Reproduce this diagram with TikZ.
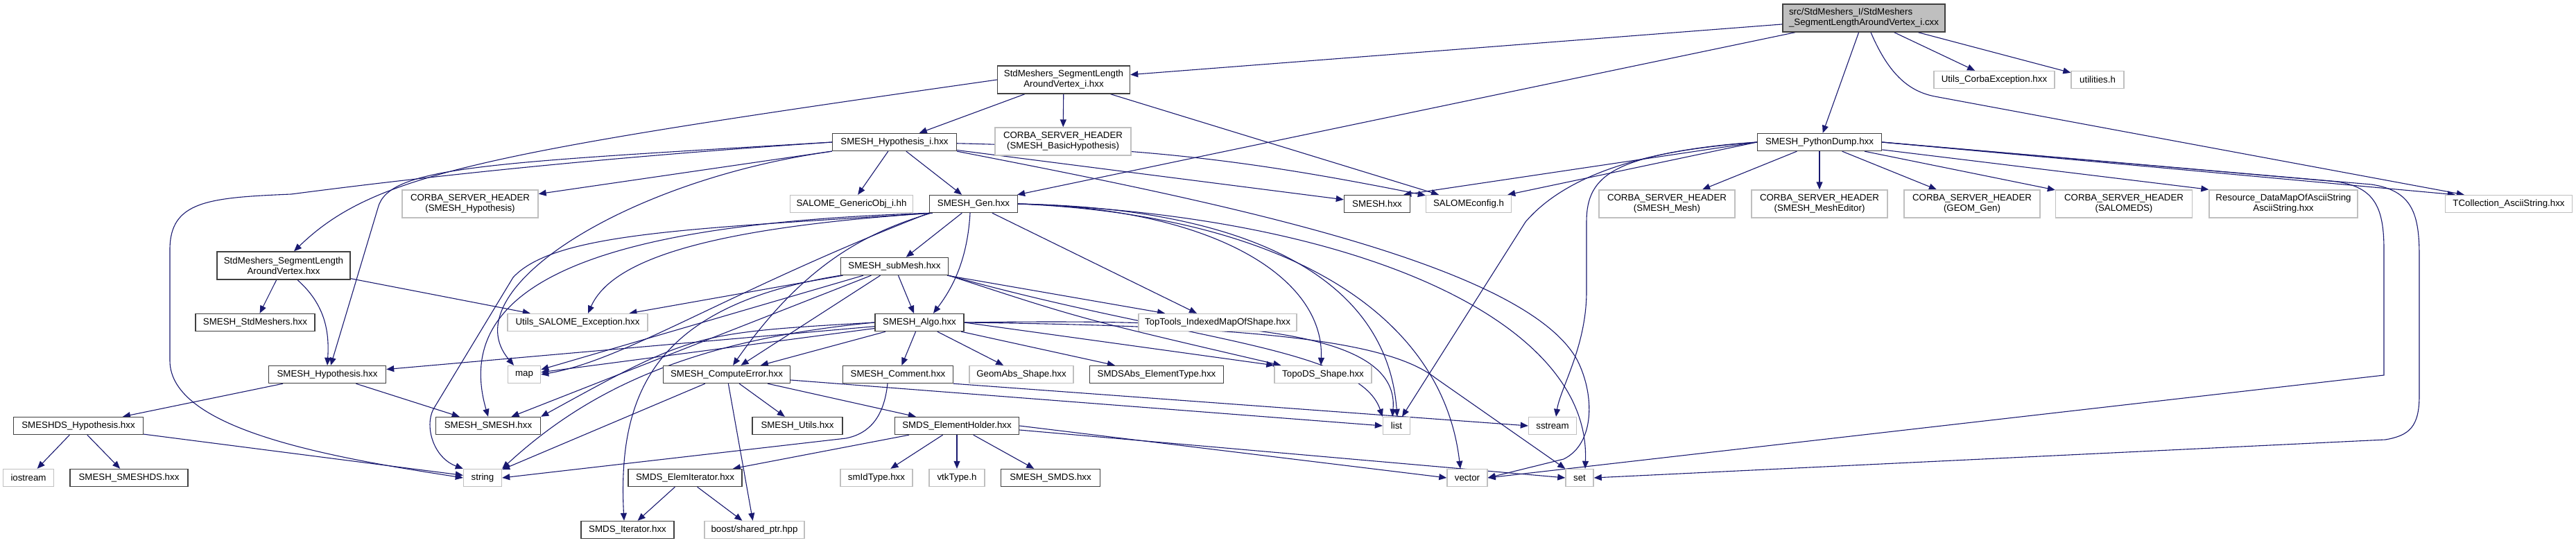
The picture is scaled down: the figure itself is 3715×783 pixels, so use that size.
\documentclass[tikz,border=0pt]{standalone}
\usepackage{fontspec}
\setmainfont{Liberation Sans}
\usetikzlibrary{arrows.meta}
\definecolor{eb}{HTML}{191970}
\definecolor{bd}{HTML}{404040}
\definecolor{lg}{HTML}{BFBFBF}
\newcommand{\fs}{\fontsize{13.3}{15}\selectfont}
\pgfdeclarelayer{bg}
\pgfsetlayers{bg,main}
\begin{document}
\begin{tikzpicture}[x=1pt,y=-1pt,
  dk/.style={draw=bd, line width=1.4pt, fill=white, inner sep=0pt, minimum height=25pt, align=center, font=\fs},
  lt/.style={draw=lg, line width=1.4pt, fill=white, inner sep=0pt, minimum height=25pt, align=center, font=\fs},
  two/.style={minimum height=40pt},
  e/.style={draw=eb, line width=1.1pt, -{Triangle[length=11pt,width=9pt]}}]
\useasboundingbox (0,0) rectangle (3715,783);
% nodes
\node[dk,fill=lg,two,minimum width=234pt,align=left] (M) at (2688,26) {src/StdMeshers\_I/StdMeshers\\\_SegmentLengthAroundVertex\_i.cxx};
\node[dk,two,minimum width=191pt] (AVi) at (1534,115) {StdMeshers\_SegmentLength\\AroundVertex\_i.hxx};
\node[lt,minimum width=174pt] (UCE) at (2876,115) {Utils\_CorbaException.hxx};
\node[lt,minimum width=76pt] (UT) at (3025,115) {utilities.h};
\node[dk,minimum width=179pt] (Hi) at (1290,205) {SMESH\_Hypothesis\_i.hxx};
\node[lt,two,minimum width=196pt] (CBH) at (1533,204) {CORBA\_SERVER\_HEADER\\(SMESH\_BasicHypothesis)};
\node[dk,minimum width=179pt] (PD) at (2624,205) {SMESH\_PythonDump.hxx};
\node[lt,two,minimum width=196pt] (CH) at (678,294) {CORBA\_SERVER\_HEADER\\(SMESH\_Hypothesis)};
\node[lt,minimum width=177pt] (GO) at (1228,294) {SALOME\_GenericObj\_i.hh};
\node[dk,minimum width=127pt] (Gen) at (1404,294) {SMESH\_Gen.hxx};
\node[dk,minimum width=95pt] (SH) at (1986,294) {SMESH.hxx};
\node[lt,minimum width=123pt] (SC) at (2118,294) {SALOMEconfig.h};
\node[lt,two,minimum width=196pt] (CM) at (2404,294) {CORBA\_SERVER\_HEADER\\(SMESH\_Mesh)};
\node[lt,two,minimum width=196pt] (CME) at (2624,294) {CORBA\_SERVER\_HEADER\\(SMESH\_MeshEditor)};
\node[lt,two,minimum width=196pt] (CGG) at (2844,294) {CORBA\_SERVER\_HEADER\\(GEOM\_Gen)};
\node[lt,two,minimum width=197pt] (CSD) at (3063,294) {CORBA\_SERVER\_HEADER\\(SALOMEDS)};
\node[lt,two,minimum width=214pt] (RD) at (3293,294) {Resource\_DataMapOfAsciiString\\AsciiString.hxx};
\node[lt,minimum width=183pt] (TC) at (3618,294) {TCollection\_AsciiString.hxx};
\node[dk,two,minimum width=192pt] (AV) at (409,383) {StdMeshers\_SegmentLength\\AroundVertex.hxx};
\node[dk,minimum width=155pt] (SM) at (1290,384) {SMESH\_subMesh.hxx};
\node[dk,minimum width=172pt] (SSM) at (368,465) {SMESH\_StdMeshers.hxx};
\node[lt,minimum width=202pt] (USE) at (833,465) {Utils\_SALOME\_Exception.hxx};
\node[dk,minimum width=128pt] (Algo) at (1326,465) {SMESH\_Algo.hxx};
\node[lt,minimum width=228pt] (TT) at (1756,465) {TopTools\_IndexedMapOfShape.hxx};
\node[dk,minimum width=169pt] (Hyp) at (472,540) {SMESH\_Hypothesis.hxx};
\node[lt,minimum width=47pt] (nmap) at (756,540) {map};
\node[dk,minimum width=183pt] (CE) at (1048,540) {SMESH\_ComputeError.hxx};
\node[dk,minimum width=159pt] (Com) at (1295,540) {SMESH\_Comment.hxx};
\node[lt,minimum width=150pt] (GA) at (1473,540) {GeomAbs\_Shape.hxx};
\node[dk,minimum width=193pt] (SA) at (1668,540) {SMDSAbs\_ElementType.hxx};
\node[lt,minimum width=140pt] (TDS) at (1908,540) {TopoDS\_Shape.hxx};
\node[dk,minimum width=187pt] (SDH) at (113,614) {SMESHDS\_Hypothesis.hxx};
\node[dk,minimum width=151pt] (SS) at (704,614) {SMESH\_SMESH.hxx};
\node[dk,minimum width=130pt] (SU) at (1150,614) {SMESH\_Utils.hxx};
\node[dk,minimum width=179pt] (EH) at (1380,614) {SMDS\_ElementHolder.hxx};
\node[lt,minimum width=39pt] (nlist) at (2014,614) {list};
\node[lt,minimum width=69pt] (sst) at (2239,614) {sstream};
\node[lt,minimum width=73pt] (ios) at (41,689) {iostream};
\node[dk,minimum width=170pt] (SSD) at (186,689) {SMESH\_SMESHDS.hxx};
\node[lt,minimum width=55pt] (str) at (696,689) {string};
\node[dk,minimum width=164pt] (SEI) at (988,689) {SMDS\_ElemIterator.hxx};
\node[lt,minimum width=104pt] (smId) at (1264,689) {smIdType.hxx};
\node[lt,minimum width=80pt] (vtk) at (1380,689) {vtkType.h};
\node[dk,minimum width=143pt] (SMDS) at (1515,689) {SMESH\_SMDS.hxx};
\node[lt,minimum width=58pt] (vec) at (2116,689) {vector};
\node[lt,minimum width=40pt] (nset) at (2278,689) {set};
\node[dk,minimum width=134pt] (SI) at (905,764) {SMDS\_Iterator.hxx};
\node[lt,minimum width=144pt] (BSP) at (1088,764) {boost/shared\_ptr.hpp};
% edges
\begin{pgfonlayer}{bg}
\fill[white] (0,0) rectangle (3715,783);
% main file
\draw[e] (M) -- (AVi);
\draw[e] (M) -- (Gen);
\draw[e] (M) -- (PD);
\draw[e] (M) -- (UCE);
\draw[e] (M) -- (UT);
\draw[e] ([xshift=10pt]M.south) .. controls (2725,110) and (2755,132) .. (2790,139) -- ([xshift=28pt]TC.north west);
% AV_i
\draw[e] (AVi.west) .. controls (700,220) and (540,250) .. ([xshift=15pt]AV.north);
\draw[e] (AVi) -- (Hi);
\draw[e] (AVi) -- (CBH);
\draw[e] (AVi) -- (SC);
% Hypothesis_i
\draw[e] (Hi) -- (GO);
\draw[e] (Hi) -- (Gen);
\draw[e] (Hi) -- (CH);
\draw[e] (Hi.west) .. controls (700,235) and (560,240) .. (545,300) -- ([xshift=5pt]Hyp.north);
\draw[e] (Hi.west) .. controls (900,225) and (650,250) .. (420,280) .. controls (300,285) and (245,290) .. (245,360) -- (245,520) .. controls (245,620) and (480,660) .. (str.west);
\draw[e] (Hi.south west) .. controls (900,260) and (650,420) .. ([xshift=-15pt]nmap.north);
\draw[e] (Hi) -- (SH);
\draw[e] (Hi) to[bend left=5] (SC);
\draw[e] (Hi.south east) .. controls (1750,290) and (2200,380) .. (2275,520) .. controls (2300,570) and (2300,640) .. (2255,662) -- (vec.east);
% Gen
\draw[e] (Gen) -- (SM);
\draw[e] ([xshift=-5pt]Gen.south) .. controls (1395,380) and (1370,420) .. ([xshift=20pt]Algo.north);
\draw[e] ([xshift=5pt]Gen.south west) .. controls (1000,330) and (880,380) .. ([xshift=15pt]USE.north);
\draw[e] ([xshift=2pt]Gen.south west) .. controls (950,320) and (640,380) .. (SS.north);
\draw[e] ([xshift=4pt]Gen.south west) .. controls (1000,330) and (800,335) .. (740,400) -- (625,590) .. controls (612,615) and (625,660) .. (str.north west);
\draw[e] (Gen.south west) .. controls (1050,420) and (900,520) .. (nmap.east);
\draw[e] ([xshift=3pt]Gen.south west) .. controls (1250,335) and (1160,380) .. ([xshift=9pt]CE.north);
\draw[e] (Gen) -- ([xshift=-30pt]TT.north);
\draw[e] (Gen.east) .. controls (1750,300) and (1910,400) .. ([xshift=-3pt]TDS.north);
\draw[e] (Gen.east) .. controls (1800,300) and (2000,400) .. ([xshift=1pt]nlist.north);
\draw[e] (Gen.east) .. controls (1850,310) and (2080,450) .. ([xshift=-10pt]vec.north);
\draw[e] (Gen.east) .. controls (1950,310) and (2295,460) .. ([xshift=8pt]nset.north);
% subMesh
\draw[e] (SM) -- ([xshift=-8pt]Algo.north);
\draw[e] (SM) -- (USE);
\draw[e] (SM) -- (SS);
\draw[e] (SM) -- (nmap);
\draw[e] (SM) -- (CE);
\draw[e] (SM.south west) .. controls (950,440) and (890,560) .. ([xshift=-5pt]SI.north);
\draw[e] (SM) -- (TT);
\draw[e] (SM.south east) .. controls (1560,460) .. ([xshift=10pt]TDS.north west);
\draw[e] (SM.south east) .. controls (1700,490) and (1960,500) .. (nlist.north west);
% Algo
\draw[e] (Algo) -- (Com);
\draw[e] (Algo) -- (GA);
\draw[e] (Algo) -- (SA);
\draw[e] (Algo.east) -- (TDS.north west);
\draw[e] (Algo) -- (CE);
\draw[e] (Algo.west) .. controls (1000,480) .. (SS.north east);
\draw[e] (Algo) -- (Hyp);
\draw[e] (Algo) -- (nmap);
\draw[e] (Algo.west) .. controls (1000,490) and (850,560) .. (str.north east);
\draw[e] (Algo.east) .. controls (1750,460) and (2020,470) .. ([xshift=-6pt]nlist.north);
\draw[e] (Algo.east) .. controls (1800,470) and (2000,490) .. (2070,545) -- (nset.north west);
% ComputeError
\draw[e] (CE) -- (SU);
\draw[e] (CE) -- (BSP);
\draw[e] (CE) -- (str);
\draw[e] (CE) -- (EH);
\draw[e] ([yshift=-8pt]CE.east) -- (nlist.west);
% Comment
\draw[e] ([xshift=-15pt]Com.south) .. controls (1275,600) and (1255,625) .. (1220,632) -- (str.east);
\draw[e] (Com.south east) -- (sst.west);
% ElementHolder
\draw[e] (EH) -- (smId);
\draw[e] (EH) -- (vtk);
\draw[e] (EH) -- (SMDS);
\draw[e] (EH) -- (SEI);
\draw[e] (EH.east) -- (vec.west);
\draw[e] ([yshift=-6pt]EH.east) -- (nset.west);
% ElemIterator
\draw[e] (SEI) -- (SI);
\draw[e] (SEI) -- (BSP);
% Hypothesis
\draw[e] (Hyp) -- (SDH);
\draw[e] (Hyp) -- (SS);
% SMESHDS_Hypothesis
\draw[e] (SDH) -- (ios);
\draw[e] (SDH) -- (SSD);
\draw[e] (SDH) -- (str);
% SegmentLengthAroundVertex
\draw[e] (AV) -- (SSM);
\draw[e] ([xshift=20pt]AV.south) .. controls (470,440) and (475,480) .. (Hyp.north);
\draw[e] (AV) -- (USE);
% PythonDump
\draw[e] (PD.west) -- ([xshift=-10pt]SH.north east);
\draw[e] (PD.west) -- ([xshift=-6pt]SC.north east);
\draw[e] (PD) -- (CM);
\draw[e] (PD) -- (CME);
\draw[e] (PD) -- (CGG);
\draw[e] (PD) -- (CSD);
\draw[e] (PD) -- (RD.north west);
\draw[e] (PD.east) -- ([xshift=15pt]TC.north west);
\draw[e] (PD.west) .. controls (2380,215) and (2260,250) .. (2200,320) -- ([xshift=8pt]nlist.north);
\draw[e] (PD.west) .. controls (2330,222) and (2288,250) .. (2288,320) -- (2288,420) .. controls (2288,500) and (2250,560) .. ([xshift=5pt]sst.north);
\draw[e] (PD.east) -- (3370,262) .. controls (3425,270) and (3438,300) .. (3438,360) -- (3438,541) -- (vec.east);
\draw[e] (PD.east) -- (3420,266) .. controls (3480,275) and (3489,310) .. (3489,370) -- (3489,570) .. controls (3489,615) and (3475,628) .. (3440,634) -- (nset.east);
\end{pgfonlayer}
\end{tikzpicture}
\end{document}
